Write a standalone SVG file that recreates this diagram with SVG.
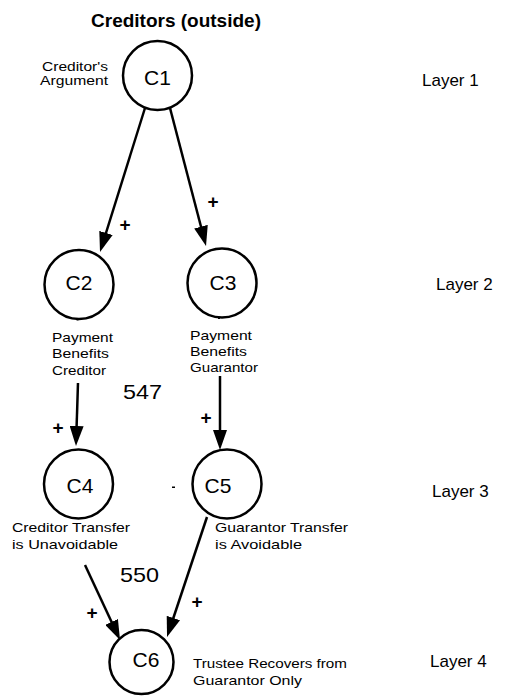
<svg xmlns="http://www.w3.org/2000/svg" width="515" height="698" viewBox="0 0 515 698">
<style>
  text { font-family: "Liberation Sans", Arial, sans-serif; fill: #000; }
  .node circle { fill: #fff; stroke: #000; stroke-width: 2.5; }
  .nl { font-size: 21px; text-anchor: middle; }
  .lab { font-size: 13px; }
  .lab12 { font-size: 12px; }
  .layer { font-size: 17px; }
  .num { font-size: 21px; }
  .plus { font-size: 19px; font-weight: bold; text-anchor: middle; }
  .title { font-size: 19px; font-weight: bold; text-anchor: middle; }
  .edge line { stroke: #000; stroke-width: 2.5; marker-end: url(#ah); }
</style>
<defs>
  <marker id="ah" markerUnits="userSpaceOnUse" markerWidth="20" markerHeight="14" viewBox="0 0 20 14" refX="10" refY="7" orient="auto">
    <path d="M0,0 L20,7 L0,14 z" fill="#000"/>
  </marker>
</defs>
<rect width="515" height="698" fill="#fff"/>

<text class="title" x="176" y="27">Creditors (outside)</text>

<g id="layers">
  <text class="layer" x="422" y="86">Layer 1</text>
  <text class="layer" x="436" y="290">Layer 2</text>
  <text class="layer" x="432" y="497">Layer 3</text>
  <text class="layer" x="430" y="667">Layer 4</text>
</g>

<g id="connectors">
  <g class="edge" id="e-c1-c2"><line x1="145" y1="108" x2="103" y2="242.5"/></g>
  <g class="edge" id="e-c1-c3"><line x1="170" y1="108" x2="203.5" y2="236.3"/></g>
  <g class="edge" id="e-c2-c4"><line x1="78" y1="383" x2="76.3" y2="436"/></g>
  <g class="edge" id="e-c3-c5"><line x1="220" y1="376" x2="220" y2="440"/></g>
  <g class="edge" id="e-c4-c6"><line x1="85" y1="565" x2="115.8" y2="631"/></g>
  <g class="edge" id="e-c5-c6"><line x1="207" y1="517" x2="170.2" y2="627.5"/></g>
  <text class="plus" x="125" y="231">+</text>
  <text class="plus" x="213" y="208">+</text>
  <text class="plus" x="58" y="434">+</text>
  <text class="plus" x="206" y="424">+</text>
  <text class="plus" x="92" y="619">+</text>
  <text class="plus" x="197" y="608">+</text>
</g>

<g id="C1" class="node">
  <circle cx="157.5" cy="75.5" r="34.5"/>
  <text class="nl" x="157.5" y="85">C1</text>
  <text class="lab12" x="42" y="71" textLength="66" lengthAdjust="spacingAndGlyphs">Creditor's</text>
  <text class="lab12" x="40" y="85" textLength="68" lengthAdjust="spacingAndGlyphs">Argument</text>
</g>

<g id="C2" class="node">
  <circle cx="79" cy="284.5" r="34.5"/>
  <text class="nl" x="79" y="290">C2</text>
  <rect x="76.5" y="318.5" width="2" height="2" fill="#000"/>
  <text class="lab" x="52" y="342" textLength="61" lengthAdjust="spacingAndGlyphs">Payment</text>
  <text class="lab" x="52" y="358" textLength="57" lengthAdjust="spacingAndGlyphs">Benefits</text>
  <text class="lab" x="52" y="375" textLength="54" lengthAdjust="spacingAndGlyphs">Creditor</text>
</g>

<g id="C3" class="node">
  <circle cx="222" cy="283" r="34.5"/>
  <text class="nl" x="223" y="290">C3</text>
  <rect x="218" y="317" width="2" height="2" fill="#000"/>
  <text class="lab" x="190" y="340" textLength="62" lengthAdjust="spacingAndGlyphs">Payment</text>
  <text class="lab" x="190" y="356" textLength="57" lengthAdjust="spacingAndGlyphs">Benefits</text>
  <text class="lab" x="190" y="372" textLength="68" lengthAdjust="spacingAndGlyphs">Guarantor</text>
</g>

<text class="num" x="123" y="399" textLength="39" lengthAdjust="spacingAndGlyphs">547</text>

<g id="C4" class="node">
  <circle cx="78.5" cy="484" r="34.5"/>
  <text class="nl" x="80" y="493">C4</text>
  <text class="lab" x="12" y="532" textLength="118" lengthAdjust="spacingAndGlyphs">Creditor Transfer</text>
  <text class="lab" x="12" y="549" textLength="106" lengthAdjust="spacingAndGlyphs">is Unavoidable</text>
</g>

<rect x="172" y="486.5" width="3" height="1.5" fill="#000"/>

<g id="C5" class="node">
  <circle cx="227" cy="484" r="34.5"/>
  <text class="nl" x="218" y="493">C5</text>
  <text class="lab" x="215" y="532" textLength="133" lengthAdjust="spacingAndGlyphs">Guarantor Transfer</text>
  <text class="lab" x="215" y="549" textLength="87" lengthAdjust="spacingAndGlyphs">is Avoidable</text>
</g>

<text class="num" x="120" y="582" textLength="39" lengthAdjust="spacingAndGlyphs">550</text>

<g id="C6" class="node">
  <circle cx="141.5" cy="662" r="32"/>
  <text class="nl" x="146" y="667">C6</text>
  <text class="lab" x="193" y="668" textLength="154" lengthAdjust="spacingAndGlyphs">Trustee Recovers from</text>
  <text class="lab" x="193" y="685" textLength="109" lengthAdjust="spacingAndGlyphs">Guarantor Only</text>
</g>
</svg>
